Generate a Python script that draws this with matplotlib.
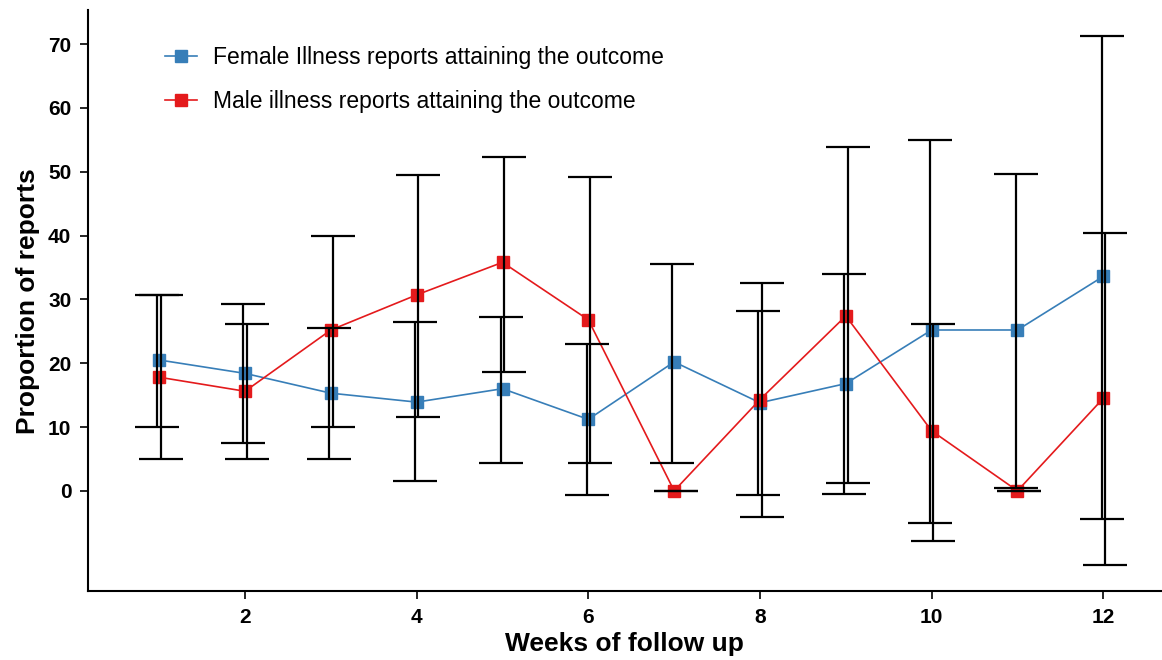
import numpy as np
import matplotlib
matplotlib.use("Agg")
import matplotlib.pyplot as plt

plt.rcParams['font.family'] = ['Liberation Sans', 'DejaVu Sans']

# data
weeks = np.arange(1, 13)
female = [20.5, 18.4, 15.3, 13.9, 16.0, 11.2, 20.2, 13.8, 16.8, 25.2, 25.2, 33.6]
female_lo = [10.0, 7.5, 5.0, 1.5, 4.3, -0.6, 4.3, -0.6, -0.5, -5.0, 0.5, -4.4]
female_hi = [30.7, 29.3, 25.5, 26.4, 27.3, 23.0, 35.6, 28.1, 34.0, 54.9, 49.7, 71.2]
male = [17.8, 15.6, 25.2, 30.7, 35.8, 26.8, 0.0, 14.3, 27.4, 9.4, 0.0, 14.5]
male_lo = [5.0, 5.0, 10.0, 11.6, 18.6, 4.3, 0.0, -4.1, 1.2, -7.9, 0.0, -11.6]
male_hi = [30.7, 26.2, 40.0, 49.5, 52.3, 49.1, 0.0, 32.5, 53.8, 26.2, 0.0, 40.4]

blue = '#377eb8'
red = '#e41a1c'

fig = plt.figure(figsize=(11.62, 6.60), dpi=100)
ax = fig.add_axes([0.0757, 0.1045, 0.924, 0.880])

ax.plot(weeks, female, color=blue, marker='s', markersize=9, lw=1.2,
        label='Female Illness reports attaining the outcome', zorder=2)
ax.plot(weeks, male, color=red, marker='s', markersize=9, lw=1.2,
        label='Male illness reports attaining the outcome', zorder=2)

# confidence intervals, slightly dodged
def ci(x, mid, lo, hi):
    mid = np.array(mid)
    yerr = [mid - np.array(lo), np.array(hi) - mid]
    ax.errorbar(x, mid, yerr=yerr, fmt='none', ecolor='black', elinewidth=1.6,
                capsize=15.5, capthick=1.6, zorder=3)

ci(weeks - 0.02, female, female_lo, female_hi)
ci(weeks + 0.02, male, male_lo, male_hi)

ax.set_xlim(0.17, 12.68)
ax.set_ylim(-15.7, 75.3)
ax.set_xticks([2, 4, 6, 8, 10, 12])
ax.set_yticks(range(0, 71, 10))
for s in ['top', 'right']:
    ax.spines[s].set_visible(False)
for s in ['left', 'bottom']:
    ax.spines[s].set_linewidth(1.5)
ax.tick_params(axis='both', direction='out', length=6, width=1.2, labelsize=15, pad=6)
for lab in ax.get_xticklabels() + ax.get_yticklabels():
    lab.set_fontweight('bold')

ax.set_xlabel('Weeks of follow up', fontsize=19, fontweight='bold', labelpad=4)
ax.set_ylabel('Proportion of reports', fontsize=19, fontweight='bold', labelpad=6)

ax.legend(loc='upper left', bbox_to_anchor=(0.0717, 0.938), frameon=False,
          fontsize=16.5, handlelength=1.4, handletextpad=0.7, labelspacing=0.92,
          borderpad=0, borderaxespad=0)

fig.savefig('out.png', dpi=100)
